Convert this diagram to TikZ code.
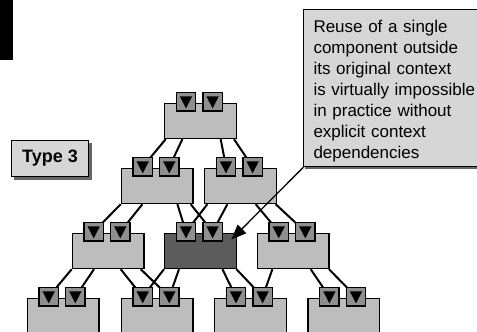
\documentclass[tikz,border=0pt]{standalone}
\usepackage{fontspec}
\newfontfamily\arial{Liberation Sans}
\usetikzlibrary{arrows.meta}
\definecolor{boxgray}{gray}{0.74}
\definecolor{darkbox}{gray}{0.36}
\definecolor{portgray}{gray}{0.56}
\definecolor{notegray}{gray}{0.84}
\definecolor{shadowgray}{gray}{0.40}
\pgfdeclarelayer{wires}
\pgfsetlayers{wires,main}

\begin{document}
\begin{tikzpicture}[x=1pt,y=-1pt,
  comp/.style={draw=black, line width=1.4pt, fill=boxgray,
    minimum width=71.5pt, minimum height=34.8pt, inner sep=0pt, anchor=north west},
  port/.style={draw=black, line width=1.3pt, fill=portgray,
    minimum width=19.2pt, minimum height=18.2pt, inner sep=0pt,
    path picture={\fill[black] ([shift={(-6.2,-5.5)}]path picture bounding box.center)
      -- ++(12.4,0) -- ++(-6.2,12) -- cycle;}},
  wire/.style={line width=2pt},
  label3/.style={draw=black, line width=1pt, fill=notegray, minimum width=77pt,
    minimum height=35.7pt, inner sep=0pt, font=\arial\bfseries\fontsize{18}{20}\selectfont},
  notebox/.style={draw=black, line width=1pt, fill=notegray, anchor=north west,
    minimum width=185pt, minimum height=157pt, inner sep=0pt},
  notetxt/.style={anchor=base west, inner sep=0pt, text width=165pt, align=left,
    font=\arial\fontsize{17}{21}\selectfont},
  pointer/.style={line width=1.3pt, -{Triangle[length=15pt,width=12pt]}}]

\useasboundingbox (0,0) rectangle (477,332);
\clip (0,0) rectangle (477,332);

% black strip in the upper left corner
\fill[black] (0,0) rectangle (13.3,59.5);

% components, each with two ports on its upper edge
\foreach \n/\l/\t/\f in {
    L1/163.3/102.3/boxgray,
    L2L/120/167.3/boxgray, L2R/203.3/167.3/boxgray,
    L3L/71/232.3/boxgray, D/163.3/232.3/darkbox, L3R/256/232.3/boxgray,
    B1/26/297.3/boxgray, B2/120/297.3/boxgray, B3/213.3/297.3/boxgray, B4/306.7/297.3/boxgray} {
  \node[comp, fill=\f] (\n) at (\l+0.7,\t+0.7) {};
  \node[port] (\n-a) at (\l+22.7,\t-0.5) {};
  \node[port] (\n-b) at (\l+49.3,\t-0.5) {};
}

% dependency wires from a component's lower edge to the ports below
\begin{pgfonlayer}{wires}
\foreach \p/\dx/\c in {
    L1/1.7/L2L-a, L1/18.4/L2L-b, L1/56.7/L2R-a, L1/70/L2R-b,
    L2L/0/L3L-a, L2L/21.7/L3L-b, L2L/56.7/D-a, L2L/70/D-b,
    L2R/3.4/D-a, L2R/23.4/D-b, L2R/51.7/L3R-a, L2R/71.7/L3R-b,
    L3L/0/B1-a, L3L/22.3/B1-b, L3L/49/B2-a, L3L/69/B2-b,
    D/0/B2-a, D/15/B2-b, D/58.4/B3-a, D/72.4/B3-b,
    L3R/15.7/B3-b, L3R/54/B4-a, L3R/72.3/B4-b} {
  \draw[wire] ([xshift=\dx pt]\p.south west) -- (\c.center);
}
\end{pgfonlayer}

% "Type 3" tag with its shadow
\node[label3] (type) at (50,158.3) {Type 3};
\begin{pgfonlayer}{wires}
\fill[shadowgray] ([shift={(3,3)}]type.south west) rectangle ([shift={(3,3)}]type.north east);
\end{pgfonlayer}

% note with its pointer to the highlighted component
\fill[shadowgray] (305.3,11.3) rectangle (490,169);
\node[notebox] (note) at (303.3,9.3) {};
\node[notetxt] (notetext) at (313.3,32.7) {Reuse of a single\\
component outside\\
its original context\\
is virtually impossible\\
in practice without\\
explicit context\\
dependencies};
\coordinate (tgt) at ([xshift=-5.5pt,yshift=-6.5pt]D.north east);
\draw[pointer] (note.south west) -- (tgt);
\end{tikzpicture}
\end{document}
